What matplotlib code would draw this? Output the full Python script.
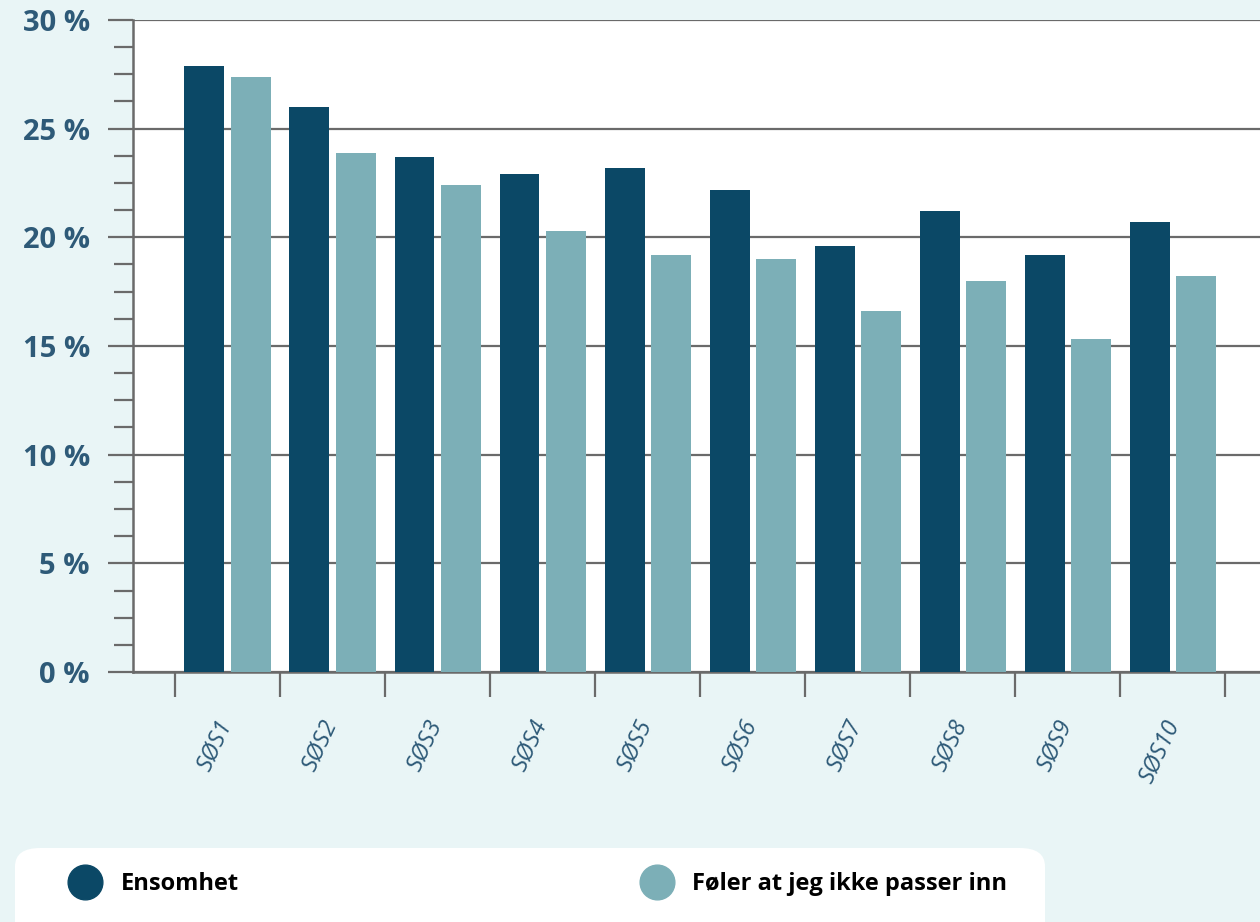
import matplotlib.pyplot as plt
import matplotlib.transforms as mtransforms
import numpy as np
from matplotlib.lines import Line2D
from matplotlib.patches import FancyBboxPatch
from matplotlib.ticker import MultipleLocator, FuncFormatter

categories = ["SØS1", "SØS2", "SØS3", "SØS4", "SØS5", "SØS6", "SØS7", "SØS8", "SØS9", "SØS10"]
ensomhet = [27.9, 26.0, 23.7, 22.9, 23.2, 22.2, 19.6, 21.2, 19.2, 20.7]
passer_ikke = [27.4, 23.9, 22.4, 20.3, 19.2, 19.0, 16.6, 18.0, 15.3, 18.2]
series_names = ["Ensomhet", "Føler at jeg ikke passer inn"]

dark = "#0b4866"
light = "#7cafb7"
bg = "#e9f5f6"
grid_col = "#6a6a6a"
label_col = "#2e5a78"

plt.rcParams['font.family'] = ['Open Sans', 'DejaVu Sans']

fig = plt.figure(figsize=(12.6, 9.22), dpi=100, facecolor=bg)
ax = fig.add_axes([133/1260, 1 - 672/922, 1 - 133/1260, (672 - 20)/922])
ax.set_facecolor("white")

x = np.arange(len(categories))
w = 0.38
ax.bar(x - 0.22, ensomhet, w, color=dark, zorder=3)
ax.bar(x + 0.22, passer_ikke, w, color=light, zorder=3)

ax.set_xlim(-0.9, 9.83)
ax.set_ylim(0, 30)

# y axis: major gridlines with outward ticks, minor ticks in between
ax.yaxis.set_major_locator(MultipleLocator(5))
ax.yaxis.set_minor_locator(MultipleLocator(1.25))
ax.yaxis.set_major_formatter(FuncFormatter(lambda v, p: f"{v:.0f} %"))
ax.grid(axis='y', which='major', color=grid_col, linewidth=1.6, zorder=1)
ax.tick_params(axis='y', which='major', length=18, width=1.6, color=grid_col,
               pad=13, labelsize=21, labelcolor=label_col)
ax.tick_params(axis='y', which='minor', length=14, width=1.6, color=grid_col)
for lab in ax.get_yticklabels():
    lab.set_fontweight('bold')

# x axis: ticks at category boundaries, labels at centres
ax.set_xticks(np.arange(-0.5, len(categories) + 0.5, 1))
ax.set_xticklabels([])
ax.set_xticks(x, minor=True)
ax.set_xticklabels(categories, minor=True, rotation=65, style='italic',
                   fontsize=17, color=label_col, ha='center', va='top')
ax.tick_params(axis='x', which='major', length=18, width=1.6, color=grid_col)
ax.tick_params(axis='x', which='minor', length=0, pad=32)
shift = mtransforms.ScaledTranslation(-12/100, 0, fig.dpi_scale_trans)
for lab in ax.get_xticklabels(minor=True):
    lab.set_transform(lab.get_transform() + shift)

for s in ['top', 'right']:
    ax.spines[s].set_visible(False)
for s in ['left', 'bottom']:
    ax.spines[s].set_color(grid_col)
    ax.spines[s].set_linewidth(1.8)

# legend box
box = FancyBboxPatch((15/1260, -0.05), (1045 - 15)/1260, (922 - 848)/922 + 0.05,
                     boxstyle="round,pad=0,rounding_size=0.02", transform=fig.transFigure,
                     facecolor="white", edgecolor="none", zorder=0)
fig.patches.append(box)
handles = [Line2D([], [], marker='o', linestyle='none', markersize=25, color=c)
           for c in (dark, light)]
leg = fig.legend(handles, series_names, loc='center left', ncol=2,
                 bbox_to_anchor=(71/1260, 1 - 884/922), frameon=False,
                 prop={'weight': 'bold', 'size': 17}, handletextpad=0.9,
                 columnspacing=17.1, handlelength=1.2, borderpad=0, borderaxespad=0)

fig.savefig("out.png", dpi=100, facecolor=bg)
